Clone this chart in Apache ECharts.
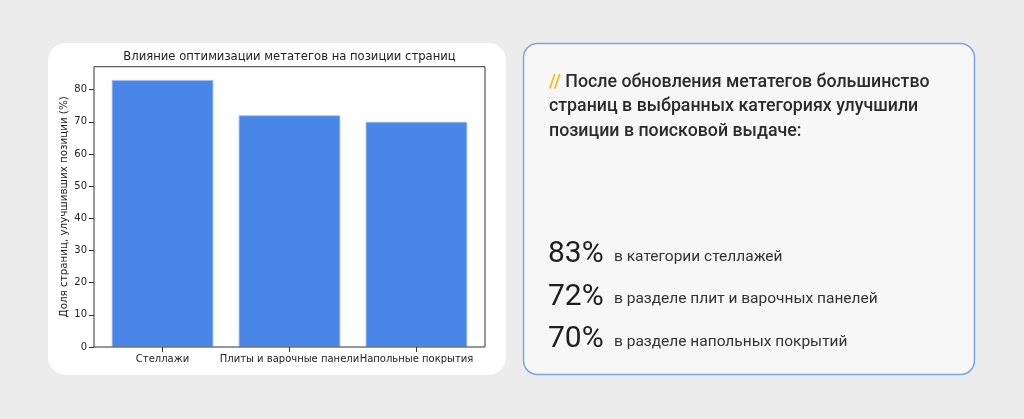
<!DOCTYPE html>
<html>
<head>
<meta charset="utf-8">
<script src="https://cdn.jsdelivr.net/npm/echarts@6/dist/echarts.min.js"></script>
<style>
html,body{margin:0;padding:0;background:#ececec;}
#c{width:1024px;height:419px;}
</style>
</head>
<body>
<div id="c"></div>
<script>
const chartTitle = 'Влияние оптимизации метатегов на позиции страниц';
const yAxisName = 'Доля страниц, улучшивших позиции (%)';
const categories = ['Стеллажи', 'Плиты и варочные панели', 'Напольные покрытия'];
const values = [83, 72, 70];
const yTicks = [0, 10, 20, 30, 40, 50, 60, 70, 80];
const yMax = 87.15;
const headingLines = ['После обновления метатегов большинство', 'страниц в выбранных категориях улучшили', 'позиции в поисковой выдаче:'];
const statLabels = ['в категории стеллажей', 'в разделе плит и варочных панелей', 'в разделе напольных покрытий'];

const chart = echarts.init(document.getElementById('c'), null, {renderer: 'canvas'});
const mplFont = '"DejaVu Sans", sans-serif';
const plotTop = 66.7, plotBottom = 347, frameLeft = 94, frameRight = 485;

const graphics = [
  {type: 'rect', z: -10, shape: {x: 48, y: 43, width: 458, height: 332, r: 18}, style: {fill: '#ffffff'}},
  {type: 'rect', z: -10, shape: {x: 523.5, y: 43.5, width: 451, height: 331, r: 14}, style: {fill: '#f7f7f7', stroke: '#7ba4ee', lineWidth: 1.5}},
  {type: 'text', x: (frameLeft + frameRight) / 2, y: 57, style: {text: chartTitle, font: '11.6px ' + mplFont, fill: '#222', align: 'center', verticalAlign: 'middle'}},
  {type: 'text', x: 549, y: 70, style: {
    text: '{y|//} ' + headingLines.join('\n'),
    rich: {y: {fill: '#f5b90a', font: '500 17.8px Roboto, sans-serif'}},
    font: '500 17.8px Roboto, sans-serif', fill: '#2b2b2b', lineHeight: 24.5, align: 'left', verticalAlign: 'top'}}
];
values.forEach((v, i) => {
  graphics.push({type: 'text', x: 548, y: 254.5 + i * 42.6, style: {text: v + '%', font: '400 30px Roboto, sans-serif', fill: '#1e1e1e', align: 'left', verticalAlign: 'middle'}});
  graphics.push({type: 'text', x: 614, y: 257 + i * 42.6, style: {text: statLabels[i], font: '400 15.5px Roboto, sans-serif', fill: '#333', align: 'left', verticalAlign: 'middle'}});
});

const band = (frameRight - frameLeft) / 3.08;
const barLeft = frameLeft + 0.04 * band;
const barRight = barLeft + 3 * band;

chart.setOption({
  backgroundColor: '#ececec',
  animation: false,
  graphic: graphics,
  grid: [
    {left: barLeft, width: barRight - barLeft, top: plotTop, height: plotBottom - plotTop, containLabel: false},
    {left: frameLeft, width: frameRight - frameLeft, top: plotTop, height: plotBottom - plotTop, show: true, borderColor: '#333', borderWidth: 1, backgroundColor: 'transparent', z: 5}
  ],
  xAxis: [
    {type: 'category', gridIndex: 0, data: categories,
     axisLine: {show: false},
     axisTick: {show: true, alignWithLabel: true, length: 5, lineStyle: {color: '#333'}},
     axisLabel: {color: '#222', fontFamily: 'DejaVu Sans', fontSize: 10, margin: 7, interval: 0},
     splitLine: {show: false}},
    {type: 'value', gridIndex: 1, show: false}
  ],
  yAxis: [
    {type: 'value', gridIndex: 0, min: 0, max: yMax, offset: barLeft - frameLeft,
     name: yAxisName, nameLocation: 'middle', nameRotate: 90, nameGap: 25,
     nameTextStyle: {color: '#222', fontFamily: 'DejaVu Sans', fontSize: 10.3},
     axisLine: {show: false},
     axisTick: {show: true, length: 5, lineStyle: {color: '#333'}, customValues: yTicks},
     axisLabel: {color: '#222', fontFamily: 'DejaVu Sans', fontSize: 10, margin: 7, customValues: yTicks},
     splitLine: {show: false}},
    {type: 'value', gridIndex: 1, show: false}
  ],
  series: [{
    type: 'bar', xAxisIndex: 0, yAxisIndex: 0, data: values, barWidth: '80%',
    itemStyle: {color: '#4a86e8', borderColor: '#9bbcf3', borderWidth: 0.8}
  }]
});
</script>
</body>
</html>
